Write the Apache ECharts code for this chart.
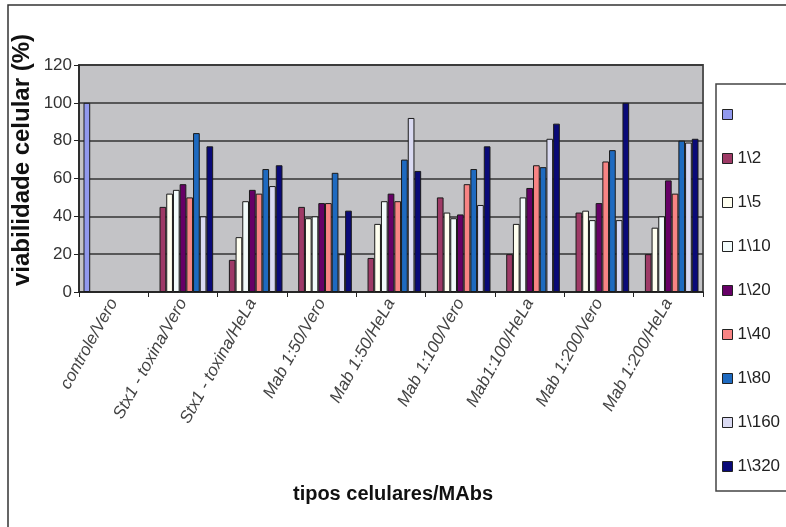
<!DOCTYPE html>
<html>
<head>
<meta charset="utf-8">
<script src="https://cdn.jsdelivr.net/npm/echarts@6/dist/echarts.min.js"></script>
<style>
html,body{margin:0;padding:0;background:#fff;}
#c{width:786px;height:527px;}
</style>
</head>
<body>
<div id="c"></div>
<script>
const categories = ['controle/Vero', 'Stx1 - toxina/Vero', 'Stx1 - toxina/HeLa', 'Mab 1:50/Vero', 'Mab 1:50/HeLa', 'Mab 1:100/Vero', 'Mab1:100/HeLa', 'Mab 1:200/Vero', 'Mab 1:200/HeLa'];
const seriesNames = [' ', '1\\2', '1\\5', '1\\10', '1\\20', '1\\40', '1\\80', '1\\160', '1\\320'];
const sControl = [100, null, null, null, null, null, null, null, null];
const s1_2   = [null, 45, 17, 45, 18, 50, 20, 42, 20];
const s1_5   = [null, 52, 29, 39, 36, 42, 36, 43, 34];
const s1_10  = [null, 54, 48, 40, 48, 39, 50, 38, 40];
const s1_20  = [null, 57, 54, 47, 52, 41, 55, 47, 59];
const s1_40  = [null, 50, 52, 47, 48, 57, 67, 69, 52];
const s1_80  = [null, 84, 65, 63, 70, 65, 66, 75, 80];
const s1_160 = [null, 40, 56, 20, 92, 46, 81, 38, 79];
const s1_320 = [null, 77, 67, 43, 64, 77, 89, 100, 81];
const yTicks = [0, 20, 40, 60, 80, 100, 120];

const seriesData = [sControl, s1_2, s1_5, s1_10, s1_20, s1_40, s1_80, s1_160, s1_320];
const colors = ['#9199EE', '#9E3A66', '#FFFFF0', '#F2FBFB', '#660066', '#F88484', '#1E6AC0', '#DADAF2', '#0A0A78'];
const sans = "'Liberation Sans', Arial, sans-serif";

const chart = echarts.init(document.getElementById('c'));
chart.setOption({
  animation: false,
  color: colors,
  graphic: [
    { type: 'rect', shape: { x: 8, y: 5, width: 800, height: 540 }, style: { fill: 'none', stroke: '#333', lineWidth: 1.5 }, z: 0 },
    { type: 'text', x: 22, y: 160, rotation: Math.PI / 2,
      style: { text: 'viabilidade celular (%)', fill: '#111', font: "bold 24px " + sans, align: 'center', verticalAlign: 'middle' } },
    { type: 'text', x: 393, y: 494,
      style: { text: 'tipos celulares/MAbs', fill: '#111', font: "bold 20px " + sans, align: 'center', verticalAlign: 'middle' } }
  ],
  legend: {
    orient: 'vertical', left: 716, top: 84,
    padding: [22, 40, 16, 6],
    borderColor: '#444', borderWidth: 1.5,
    itemGap: 27, itemWidth: 10, itemHeight: 10,
    icon: 'rect',
    itemStyle: { borderColor: '#222', borderWidth: 1 },
    textStyle: { fontSize: 17, fontFamily: sans, color: '#222' },
    data: seriesNames
  },
  grid: { left: 79, right: 83, top: 65, bottom: 235, show: true, backgroundColor: '#c3c3c6', borderColor: '#555', borderWidth: 2, containLabel: false, outerBoundsMode: 'none' },
  xAxis: {
    type: 'category', data: categories,
    axisLine: { lineStyle: { color: '#222', width: 1.5 } },
    axisTick: { show: true, length: 5, lineStyle: { color: '#222' } },
    axisLabel: { rotate: 61, margin: 8, fontStyle: 'italic', fontSize: 17, fontFamily: sans, color: '#444' }
  },
  yAxis: {
    type: 'value', min: yTicks[0], max: yTicks[yTicks.length - 1], interval: 20,
    axisLine: { show: true, lineStyle: { color: '#222', width: 1.5 } },
    axisTick: { show: true, length: 5, lineStyle: { color: '#222' } },
    axisLabel: { fontSize: 17, fontFamily: sans, color: '#333', margin: 7 },
    splitLine: { lineStyle: { color: '#333', width: 1.5 } }
  },
  series: seriesNames.map((n, i) => ({
    name: n, type: 'bar', data: seriesData[i],
    barGap: '0%', barCategoryGap: '13%',
    itemStyle: { borderColor: '#1a1a1a', borderWidth: 1 }
  }))
});
</script>
</body>
</html>
